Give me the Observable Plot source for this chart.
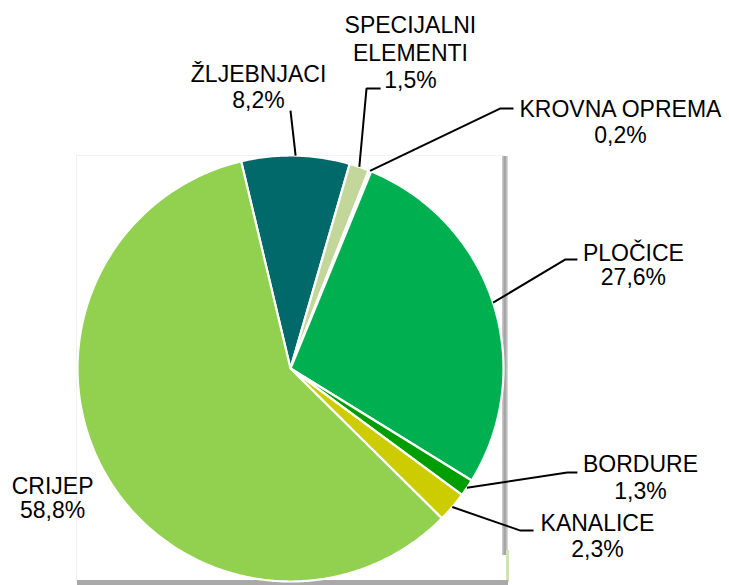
<!DOCTYPE html>
<html><head><meta charset="utf-8">
<script src="https://cdn.jsdelivr.net/npm/d3@7"></script>
<script src="https://cdn.jsdelivr.net/npm/@observablehq/plot@0.6"></script>
<style>
body{margin:0;background:#fff;}
#wrap{position:relative;width:729px;height:585px;overflow:hidden;background:#fff;}
.deco{position:absolute;}
#chart{position:absolute;left:0;top:0;}
</style></head><body>
<div id="wrap">
 <div class="deco" style="left:76px;top:155px;width:427px;height:425px;border-left:1px solid #eeeeee;border-top:1px solid #f2f2f2;"></div>
 <div class="deco" style="left:502px;top:156px;width:6px;height:399px;background:linear-gradient(to right,#d0d0d0,#9c9c9c,#e2e2e2);"></div>
 <div class="deco" style="left:506px;top:550px;width:3px;height:32px;background:#cfe3b4;"></div>
 <div class="deco" style="left:77px;top:580px;width:431px;height:5px;background:#a9a9a9;"></div>
 <div id="chart"></div>
</div>
<script>
// ---- data ----
const categories = ["ŽLJEBNJACI", "SPECIJALNI ELEMENTI", "KROVNA OPREMA", "PLOČICE", "BORDURE", "KANALICE", "CRIJEP"];
const values = [8.2, 1.5, 0.2, 27.6, 1.3, 2.3, 58.8];
const pctLabels = ["8,2%", "1,5%", "0,2%", "27,6%", "1,3%", "2,3%", "58,8%"];
const nameLines = [["ŽLJEBNJACI"], ["SPECIJALNI", "ELEMENTI"], ["KROVNA OPREMA"], ["PLOČICE"], ["BORDURE"], ["KANALICE"], ["CRIJEP"]];
const colors = ["#02696a", "#c4d79b", "#eef3e2", "#00b050", "#009e00", "#cccc00", "#92d050"];

// ---- layout (pie centre at 0,0, radius 1) ----
const W = 729, H = 585, R = 213, CX = 290, CY = 368;
const startDeg = -13.4;
const labelAnchor = [[-0.150, 1.347], [0.563, 1.577], [1.549, 1.183], [1.610, 0.507], [1.643, -0.488], [1.441, -0.761], [-1.117, -0.587]];
const leaderBend = [[0, 1.211], [0.357, 1.315], [0.986, 1.221], [1.291, 0.512], [1.300, -0.488], [1.080, -0.761], null];
const leaderEnd  = [[0, 1.211], [0.423, 1.315], [1.047, 1.221], [1.347, 0.512], [1.347, -0.488], [1.141, -0.761], null];
const lineStep = [0.126, 0.131, 0.122, 0.117, 0.126, 0.126, 0.113];

const a0 = startDeg * Math.PI / 180;
const arcs = d3.pie().sort(null).startAngle(a0).endAngle(a0 + 2 * Math.PI)(values);

const slicePts = [];
arcs.forEach((a, i) => {
  slicePts.push({cat: categories[i], x: 0, y: 0});
  const n = Math.max(2, Math.ceil((a.endAngle - a.startAngle) / 0.01));
  for (let k = 0; k <= n; k++) {
    const t = a.startAngle + (a.endAngle - a.startAngle) * k / n;
    slicePts.push({cat: categories[i], x: Math.sin(t), y: Math.cos(t)});
  }
  slicePts.push({cat: categories[i], x: 0, y: 0});
});
const circlePts = d3.range(0, 361).map(d => ({x: Math.sin(d * Math.PI / 180), y: Math.cos(d * Math.PI / 180)}));

const leaderPts = [];
arcs.forEach((a, i) => {
  if (!leaderBend[i]) return;
  const m = (a.startAngle + a.endAngle) / 2;
  leaderPts.push({cat: categories[i], x: Math.sin(m), y: Math.cos(m)});
  leaderPts.push({cat: categories[i], x: leaderBend[i][0], y: leaderBend[i][1]});
  leaderPts.push({cat: categories[i], x: leaderEnd[i][0], y: leaderEnd[i][1]});
});

const textRows = [];
categories.forEach((c, i) => {
  const lines = [...nameLines[i], pctLabels[i]];
  lines.forEach((t, j) => textRows.push({text: t, x: labelAnchor[i][0], y: labelAnchor[i][1] - j * lineStep[i]}));
});

const plot = Plot.plot({
  width: W, height: H, margin: 0,
  style: {background: "transparent", overflow: "visible"},
  x: {domain: [-CX / R, (W - CX) / R], range: [0, W], axis: null},
  y: {domain: [-(H - CY) / R, CY / R], range: [H, 0], axis: null},
  color: {domain: categories, range: colors},
  marks: [
    Plot.line(circlePts, {x: "x", y: "y", fill: "#808080", stroke: "none", dx: 4, dy: 4, ariaLabel: "pieshadow"}),
    Plot.line(slicePts, {x: "x", y: "y", z: "cat", fill: "cat", stroke: "white", strokeWidth: 2.2, strokeLinejoin: "round"}),
    Plot.line(leaderPts, {x: "x", y: "y", z: "cat", stroke: "black", strokeWidth: 2, strokeLinejoin: "miter", strokeLinecap: "butt"}),
    Plot.text(textRows, {x: "x", y: "y", text: "text", fontSize: 23, fontFamily: "'Liberation Sans', Arial, sans-serif", fill: "#000", lineAnchor: "bottom", textAnchor: "middle"})
  ]
});

const ns = "http://www.w3.org/2000/svg";
const defs = document.createElementNS(ns, "defs");
defs.innerHTML = '<filter id="blur" x="-20%" y="-20%" width="140%" height="140%"><feGaussianBlur stdDeviation="2.5"/></filter>';
plot.insertBefore(defs, plot.firstChild);
const sg = plot.querySelector('g[aria-label="pieshadow"]');
if (sg) sg.setAttribute("filter", "url(#blur)");
document.getElementById("chart").appendChild(plot);
</script>
</body></html>
